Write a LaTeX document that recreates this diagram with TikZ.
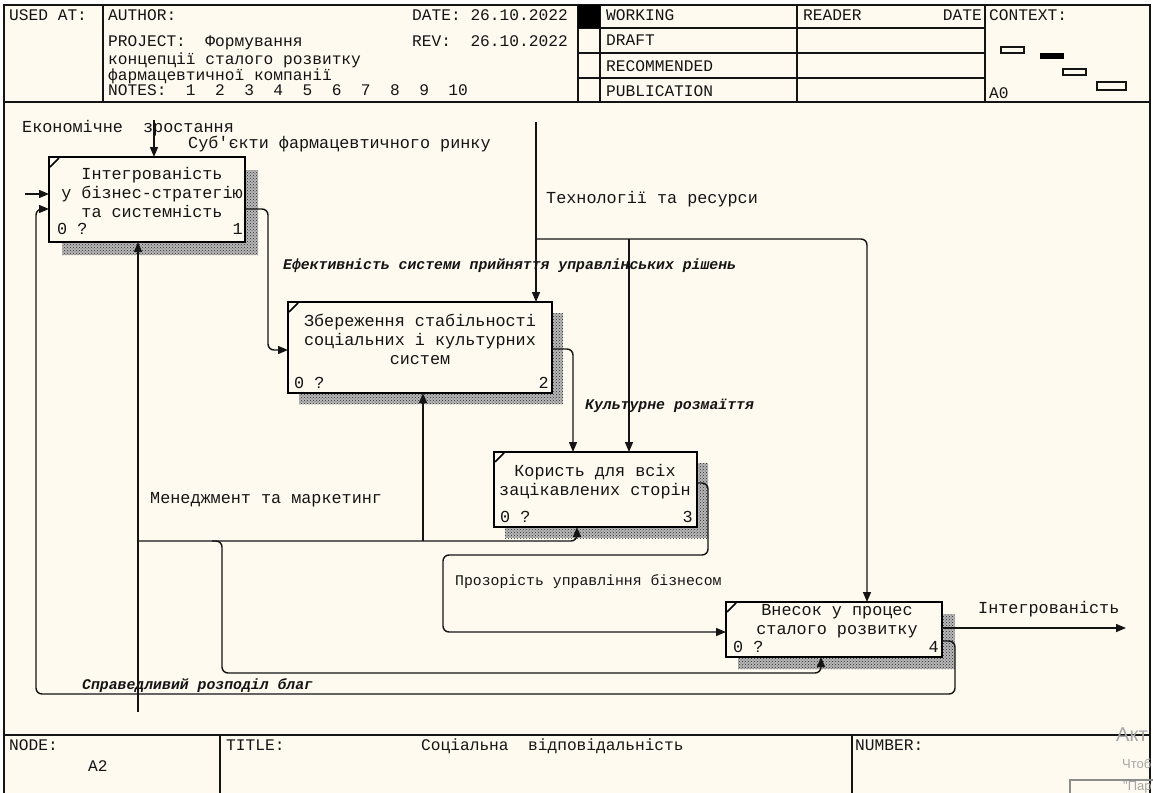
\documentclass[tikz,border=0pt]{standalone}
\usepackage{fontspec}
\newfontfamily\cour[Ligatures=TeXOff]{Liberation Mono}
\newfontfamily\wsans{Liberation Sans}
\usetikzlibrary{arrows.meta,patterns}
\definecolor{paper}{RGB}{255,250,240}
\definecolor{ink}{RGB}{20,20,20}

\begin{document}
\begin{tikzpicture}[x=1pt,y=-1pt,
  frame/.style={draw=ink, line width=1.3pt},
  hdr/.style={font=\cour\fontsize{16.2}{18}\selectfont, text=ink, inner sep=0pt, anchor=base west},
  txt/.style={font=\cour\fontsize{16.8}{19}\selectfont, text=ink, inner sep=0pt, anchor=base west},
  small/.style={font=\cour\fontsize{14.8}{17}\selectfont, text=ink, inner sep=0pt, anchor=base west},
  lbl/.style={font=\cour\bfseries\itshape\fontsize{14.8}{17}\selectfont, text=ink, inner sep=0pt, anchor=base west},
  btxt/.style={font=\cour\fontsize{16.8}{19}\selectfont, text=ink, align=center, inner sep=0pt},
  box/.style={draw=black, line width=2.8pt, fill=paper, inner sep=0pt, outer sep=0pt},
  shadebase/.style={fill=black!28},
  shade/.style={pattern=crosshatch dots, pattern color=black!85},
  conn/.style={draw=ink, line width=1.4pt, rounded corners=6pt},
  arr/.style={conn, -{Triangle[length=10pt,width=8pt]}},
  wm/.style={font=\wsans, text=black!35, inner sep=0pt, anchor=base west}
]
\useasboundingbox (0,0) rectangle (1153,792);
\fill[white] (0,0) rectangle (1153,792);
\fill[paper] (4,5) rectangle (1150,800);

% ---------- title block ----------
\draw[frame] (4,5) rectangle (1150,800);
\draw[frame] (4,102) -- (1150,102);
\draw[frame] (103,5) -- (103,102);
\draw[frame] (578,5) -- (578,102);
\draw[frame] (600,5) -- (600,102);
\draw[frame] (797,5) -- (797,102);
\draw[frame] (985,5) -- (985,102);
\foreach \yy in {28,53,78} \draw[frame] (578,\yy) -- (985,\yy);
\fill[black] (578,5) rectangle (600,28);

\node[hdr] (usedat) at (9,21) {USED AT:};
\node[hdr] (author) at (108,21) {AUTHOR:};
\node[hdr] (date) at (412,21) {DATE: 26.10.2022};
\node[hdr] (project) at (108,47) {PROJECT:~~Формування};
\node[hdr] (rev) at (412,47) {REV:~~26.10.2022};
\node[hdr] (proj2) at (108,64) {концепції сталого розвитку};
\node[hdr] (proj3) at (108,81) {фармацевтичної компанії};
\node[hdr] (notes) at (108,95) {NOTES:~~1~~2~~3~~4~~5~~6~~7~~8~~9~~10};
\node[hdr] (working) at (606,21) {WORKING};
\node[hdr] (draft) at (606,46) {DRAFT};
\node[hdr] (recom) at (606,71) {RECOMMENDED};
\node[hdr] (publ) at (606,96) {PUBLICATION};
\node[hdr] (reader) at (803,21) {READER};
\node[hdr, anchor=base east] (rdate) at (982,21) {DATE};
\node[hdr] (context) at (989,21) {CONTEXT:};
\node[hdr] (ctxnode) at (989,98) {A0};

% context thumbnail
\draw[draw=ink, line width=1.2pt] (1001,47) rectangle (1024,53);
\fill[black] (1040,53) rectangle (1064,59);
\draw[draw=ink, line width=1.2pt] (1063,69) rectangle (1086,75);
\draw[draw=ink, line width=1.2pt] (1097,82) rectangle (1126,90);

% ---------- footer ----------
\draw[frame] (4,735) -- (1150,735);
\draw[frame] (220,735) -- (220,800);
\draw[frame] (852,735) -- (852,800);
\node[hdr] (nodelbl) at (9,750) {NODE:};
\node[hdr] (nodeval) at (88,771) {A2};
\node[hdr] (titlelbl) at (226,750) {TITLE:};
\node[hdr] (titleval) at (421,750) {Соціальна~~відповідальність};
\node[hdr] (numlbl) at (855,750) {NUMBER:};

% ---------- activity shadows ----------
\foreach \xa/\ya/\xb/\yb in {62/170/258/255, 299/313/563/404, 505/463/708/538, 738/614/955/669} {
  \fill[shadebase] (\xa,\ya) rectangle (\xb,\yb);
  \fill[shade] (\xa,\ya) rectangle (\xb,\yb);
}

% ---------- free arrow ends ----------
\coordinate (econ) at (154,120);
\coordinate (subj) at (25,194);
\coordinate (tech) at (536,122);
\coordinate (tj) at (536,239);
\coordinate (tj2) at (629,239);
\coordinate (mgmt) at (138,712);
\coordinate (mj1) at (138,541);
\coordinate (mj2) at (423,541);
\coordinate (mj3) at (212,541);
\coordinate (integ) at (1126,628);

% ---------- activity boxes ----------
\node[box, minimum width=196, minimum height=85] (b1) at (147,199.5) {};
\node[box, minimum width=264, minimum height=91] (b2) at (420,347.5) {};
\node[box, minimum width=203, minimum height=75] (b3) at (595.5,489.5) {};
\node[box, minimum width=216, minimum height=55] (b4) at (834,629.5) {};

% ---------- connectors ----------
\draw[arr] (econ) -- (econ |- b1.north);
\draw[arr] (subj) -- (subj -| b1.west);
\draw[arr] (b1.east |- 0,209) -| (268,350) -- (b2.west |- 0,350);
\draw[arr] (tech) -- (tech |- b2.north);
\draw[arr] (tj) -| (867,0 |- b4.north);
\draw[arr] (tj2) -- (tj2 |- b3.north);
\draw[arr] (b2.east |- 0,349) -| (573,0 |- b3.north);
\draw[arr] (b3.east |- 0,483) -| (708,555) -| (443,632) -- (b4.west |- 0,632);
\draw[arr] (b4.east |- 0,628) -- (integ);
\draw[arr] (b4.east |- 0,641) -| (955,694) -| (36,209) -- (b1.west |- 0,209);
\draw[arr] (mgmt) -- (mgmt |- b1.south);
\draw[arr] (mj1) -| (577,0 |- b3.south);
\draw[arr] (mj2) -- (mj2 |- b2.south);
\draw[arr] (mj3) -| (222,673) -| (821,0 |- b4.south);

% box corner ticks
\foreach \b in {b1,b2,b3,b4}
  \draw[line width=1.5pt] ([xshift=1pt,yshift=-10pt]\b.north west) -- ([xshift=10pt,yshift=-1pt]\b.north west);

% ---------- box texts ----------
\node[btxt] (t1) at (152,192) {Інтегрованість\\у бізнес-стратегію\\та системність};
\node[btxt] (t2) at (420,339.5) {Збереження стабільності\\соціальних і культурних\\систем};
\node[btxt] (t3) at (595,481.5) {Користь для всіх\\зацікавлених сторін};
\node[btxt] (t4) at (837,621.5) {Внесок у процес\\сталого розвитку};

\node[txt] (c1) at (57,234) {0 ?};
\node[txt, anchor=base east] (n1) at (243,234) {1};
\node[txt] (c2) at (294,388) {0 ?};
\node[txt, anchor=base east] (n2) at (549,388) {2};
\node[txt] (c3) at (500,522) {0 ?};
\node[txt, anchor=base east] (n3) at (693,522) {3};
\node[txt] (c4) at (733,652) {0 ?};
\node[txt, anchor=base east] (n4) at (939,652) {4};

% ---------- arrow labels ----------
\node[txt] (l1) at (22,132) {Економічне~~зростання};
\node[txt] (l2) at (188,148) {Суб'єкти фармацевтичного ринку};
\node[txt] (l3) at (546,203) {Технології та ресурси};
\node[lbl] (l4) at (283,269) {Ефективність системи прийняття управлінських рішень};
\node[lbl] (l5) at (585,409) {Культурне розмаїття};
\node[txt] (l6) at (150,503) {Менеджмент та маркетинг};
\node[small] (l7) at (455,585) {Прозорість управління бізнесом};
\node[txt] (l8) at (978,613) {Інтегрованість};
\node[lbl] (l9) at (82,689) {Справедливий розподіл благ};

% ---------- system overlay ----------
\node[wm, font=\wsans\fontsize{20}{24}\selectfont] (w1) at (1116,741) {Акт};
\node[wm, font=\wsans\fontsize{13}{16}\selectfont] (w2) at (1122,768) {Чтоб};
\node[wm, font=\wsans\fontsize{13}{16}\selectfont] (w3) at (1123,790) {"Пар};
\draw[black!45, line width=1.2pt] (1070,800) -- (1070,780) -- (1160,780);
\end{tikzpicture}
\end{document}
